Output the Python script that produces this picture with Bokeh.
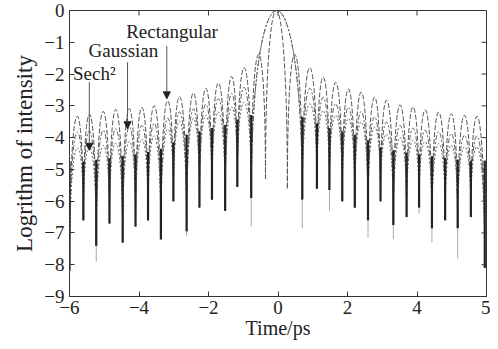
from bokeh.plotting import figure
from bokeh.models import Range1d, FixedTicker, Arrow, NormalHead, Label, ColumnDataSource
from bokeh.embed import file_html
from bokeh.resources import INLINE

# ---------------- data ----------------
x_ticks = [-6, -4, -2, 0, 2, 4, 6]
x_tick_labels = ["−6", "−4", "−2", "0", "2", "4", "5"]
y_ticks = [-9, -8, -7, -6, -5, -4, -3, -2, -1, 0]
y_tick_labels = ["−9", "−8", "−7", "−6", "−5", "−4", "−3", "−2", "−1", "0"]

# shared null (minimum) positions, ps
null_left = [-6.0, -5.60, -5.23, -4.85, -4.47, -4.10, -3.74, -3.37, -3.01, -2.63, -2.26, -1.90, -1.52, -1.17, -0.77]
null_right = [0.70, 1.12, 1.48, 1.85, 2.21, 2.59, 2.95, 3.32, 3.70, 4.06, 4.43, 4.81, 5.17, 5.55, 5.95]
# depth of the dark spikes and of their faint tails at those nulls
depth_left = [-8.2, -6.6, -7.4, -6.7, -7.3, -6.8, -6.6, -7.2, -6.0, -6.95, -6.2, -5.95, -6.3, -5.55, -5.9]
depth_right = [-5.95, -5.6, -5.65, -6.0, -6.2, -6.6, -6.0, -6.75, -6.5, -6.2, -6.85, -6.6, -6.85, -6.5, -8.1]
tail_left = [-8.2, -6.6, -7.9, -6.7, -7.3, -6.8, -6.6, -7.2, -6.0, -7.1, -6.2, -5.95, -6.3, -5.55, -6.8]
tail_right = [-6.85, -5.6, -6.3, -6.0, -6.2, -7.15, -6.0, -7.2, -6.5, -6.4, -7.3, -6.6, -7.8, -6.5, -8.1]

main_peak = 0.0

# side-lobe peak levels (log intensity), left lobes from -6 inwards, right lobes from centre outwards
rect_left = [-3.35, -3.27, -3.18, -3.12, -3.09, -3.05, -3.0, -2.85, -2.72, -2.6, -2.45, -2.28, -2.08, -1.8]
rect_right = [-1.8, -2.1, -2.26, -2.47, -2.57, -2.73, -2.83, -2.97, -3.04, -3.13, -3.2, -3.25, -3.3, -3.35]
rect_inner_nulls = [-0.36, 0.27]
rect_inner_depth = [-5.3, -5.6]
rect_inner_peak = -1.38

gauss_left = [-3.85, -3.8, -3.77, -3.72, -3.67, -3.62, -3.55, -3.4, -3.2, -3.1, -2.95, -2.78, -2.62, -2.42]
gauss_right = [-2.45, -2.73, -2.94, -3.05, -3.18, -3.35, -3.52, -3.62, -3.7, -3.77, -3.82, -3.88, -3.93, -3.98]

sech_left = [-4.35, -4.3, -4.25, -4.18, -4.12, -4.05, -3.95, -3.75, -3.5, -3.4, -3.3, -3.2, -3.04, -2.89]
sech_right = [-2.94, -3.15, -3.3, -3.4, -3.51, -3.68, -3.9, -4.0, -4.08, -4.13, -4.19, -4.24, -4.29, -4.32]

annot_text = ["Rectangular", "Gaussian", "Sech²"]
annot_x = [-4.37, -5.45, -5.9]
annot_y = [-0.66, -1.27, -1.98]
arrow_x = [-3.2, -4.33, -5.43]
arrow_y_start = [-1.12, -1.63, -2.25]
arrow_y_end = [-2.78, -3.72, -4.4]

# ---------------- figure ----------------
FONT = "Liberation Serif"
X0, X1, Y0, Y1 = x_ticks[0], x_ticks[-1], y_ticks[0], y_ticks[-1]
p = figure(width=490, height=341, output_backend="svg", toolbar_location=None,
           x_range=Range1d(X0, X1), y_range=Range1d(Y0, Y1),
           min_border_left=69, min_border_right=4, min_border_top=10, min_border_bottom=43)
p.background_fill_color = "white"
p.border_fill_color = "white"
p.xgrid.visible = False
p.ygrid.visible = False
p.outline_line_color = "#333333"
p.outline_line_width = 1


def lobes(nulls, depths, peaks):
    x0, y0, x1, y1, cx0, cy0, cx1, cy1 = [], [], [], [], [], [], [], []
    for i, pk in enumerate(peaks):
        a, b = nulls[i], nulls[i + 1]
        da, db = depths[i], depths[i + 1]
        h = (pk - 0.125 * (da + db)) / 0.75
        x0.append(a); y0.append(da); x1.append(b); y1.append(db)
        cx0.append(a); cy0.append(h); cx1.append(b); cy1.append(h)
    return ColumnDataSource(dict(x0=x0, y0=y0, x1=x1, y1=y1, cx0=cx0, cy0=cy0, cx1=cx1, cy1=cy1))


common_nulls = null_left + null_right
common_depth = depth_left + depth_right

sech_src = lobes(common_nulls, common_depth, sech_left + [main_peak] + sech_right)
gauss_src = lobes(common_nulls, common_depth, gauss_left + [main_peak] + gauss_right)
rect_src = lobes(null_left + rect_inner_nulls + null_right,
                 depth_left + rect_inner_depth + depth_right,
                 rect_left + [rect_inner_peak, main_peak, rect_inner_peak] + rect_right)

bz = dict(x0="x0", y0="y0", x1="x1", y1="y1", cx0="cx0", cy0="cy0", cx1="cx1", cy1="cy1")
p.bezier(source=sech_src, line_color="#666666", line_width=1, line_dash="2 2", **bz)
p.bezier(source=gauss_src, line_color="#606060", line_width=1, line_dash="5 2 2 2", **bz)
p.bezier(source=rect_src, line_color="#555555", line_width=1, line_dash="5 2", **bz)

# dark spikes at the nulls and their faint tails
sech_all = sech_left + [main_peak] + sech_right
spike_top = []
for i in range(len(common_nulls)):
    nb = []
    if i > 0:
        nb.append(sech_all[i - 1])
    if i < len(sech_all):
        nb.append(sech_all[i])
    spike_top.append(min(nb) - 0.4)
p.segment(x0=common_nulls, y0=spike_top, x1=common_nulls, y1=common_depth,
          line_color="#222222", line_width=2.2)
p.segment(x0=common_nulls, y0=common_depth, x1=common_nulls, y1=tail_left + tail_right,
          line_color="#aaaaaa", line_width=1)

# annotations
for t, tx, ty in zip(annot_text, annot_x, annot_y):
    p.add_layout(Label(x=tx, y=ty, text=t, text_font=FONT, text_font_size="19px",
                       text_color="#222222", text_baseline="middle", text_align="left"))
for ax, a0, a1 in zip(arrow_x, arrow_y_start, arrow_y_end):
    p.add_layout(Arrow(x_start=ax, y_start=a0, x_end=ax, y_end=a1,
                       line_color="#555555", line_width=1,
                       end=NormalHead(size=7, fill_color="#222222", line_color="#222222")))

# axes
xa = p.xaxis[0]
xa.ticker = FixedTicker(ticks=x_ticks)
xa.major_label_overrides = {t: l for t, l in zip(x_ticks, x_tick_labels)}
ya = p.yaxis[0]
ya.ticker = FixedTicker(ticks=y_ticks)
ya.major_label_overrides = {t: l for t, l in zip(y_ticks, y_tick_labels)}
for ax in (xa, ya):
    ax.major_tick_in = 5
    ax.major_tick_out = 0
    ax.minor_tick_line_color = None
    ax.axis_line_color = "#333333"
    ax.major_tick_line_color = "#333333"
    ax.major_label_text_font = FONT
    ax.major_label_text_font_size = "19px"
    ax.major_label_text_color = "#222222"
    ax.axis_label_text_font = FONT
    ax.axis_label_text_font_style = "normal"
    ax.axis_label_text_color = "#222222"
xa.axis_label = "Time/ps"
xa.axis_label_text_font_size = "20px"
xa.major_label_standoff = 4
xa.axis_label_standoff = 0
ya.axis_label = "Logrithm of intensity"
ya.axis_label_text_font_size = "23px"
ya.major_label_standoff = 5
ya.axis_label_standoff = 4

# mirrored inward tick marks on the top and right edges of the box
p.ray(x=x_ticks, y=[Y1] * len(x_ticks), length=5, length_units="screen",
      angle=-90, angle_units="deg", line_color="#333333", line_width=1)
p.ray(x=[X1] * len(y_ticks), y=y_ticks, length=5, length_units="screen",
      angle=180, angle_units="deg", line_color="#333333", line_width=1)

open("out.html", "w").write(file_html(p, INLINE))
